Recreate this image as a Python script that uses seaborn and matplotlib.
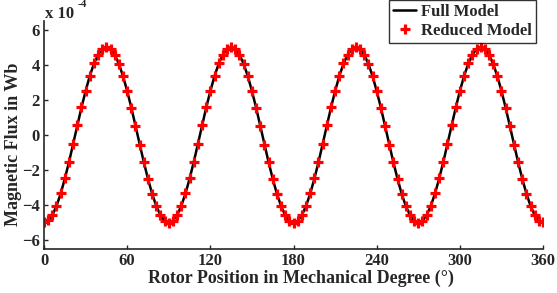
import matplotlib
matplotlib.use("Agg")
import matplotlib.pyplot as plt
import numpy as np
import pandas as pd
import seaborn as sns

# rotor position (degrees) and flux (x 1e-4 Wb)
position = [0, 3, 6, 9, 12, 15, 18, 21, 24, 27, 30, 33, 36, 39, 42, 45, 48, 51, 54, 57,
            60, 63, 66, 69, 72, 75, 78, 81, 84, 87, 90, 93, 96, 99, 102, 105, 108, 111, 114, 117,
            120, 123, 126, 129, 132, 135, 138, 141, 144, 147, 150, 153, 156, 159, 162, 165, 168, 171, 174, 177,
            180, 183, 186, 189, 192, 195, 198, 201, 204, 207, 210, 213, 216, 219, 222, 225, 228, 231, 234, 237,
            240, 243, 246, 249, 252, 255, 258, 261, 264, 267, 270, 273, 276, 279, 282, 285, 288, 291, 294, 297,
            300, 303, 306, 309, 312, 315, 318, 321, 324, 327, 330, 333, 336, 339, 342, 345, 348, 351, 354, 357,
            360]
full_flux = [-5.00, -4.89, -4.57, -4.05, -3.35, -2.50, -1.55, -0.52, 0.52, 1.55, 2.50, 3.35, 4.05, 4.57, 4.89,
             5.00, 4.89, 4.57, 4.05, 3.35, 2.50, 1.55, 0.52, -0.52, -1.55, -2.50, -3.35, -4.05, -4.57, -4.89,
             -5.00, -4.89, -4.57, -4.05, -3.35, -2.50, -1.55, -0.52, 0.52, 1.55, 2.50, 3.35, 4.05, 4.57, 4.89,
             5.00, 4.89, 4.57, 4.05, 3.35, 2.50, 1.55, 0.52, -0.52, -1.55, -2.50, -3.35, -4.05, -4.57, -4.89,
             -5.00, -4.89, -4.57, -4.05, -3.35, -2.50, -1.55, -0.52, 0.52, 1.55, 2.50, 3.35, 4.05, 4.57, 4.89,
             5.00, 4.89, 4.57, 4.05, 3.35, 2.50, 1.55, 0.52, -0.52, -1.55, -2.50, -3.35, -4.05, -4.57, -4.89,
             -5.00, -4.89, -4.57, -4.05, -3.35, -2.50, -1.55, -0.52, 0.52, 1.55, 2.50, 3.35, 4.05, 4.57, 4.89,
             5.00, 4.89, 4.57, 4.05, 3.35, 2.50, 1.55, 0.52, -0.52, -1.55, -2.50, -3.35, -4.05, -4.57, -4.89,
             -5.00]
reduced_flux = [-4.95, -4.85, -4.55, -4.02, -3.33, -2.48, -1.53, -0.50, 0.55, 1.57, 2.52, 3.37, 4.07, 4.58, 4.90,
                5.00, 4.88, 4.55, 4.03, 3.33, 2.48, 1.53, 0.50, -0.55, -1.57, -2.52, -3.37, -4.07, -4.58, -4.90,
                -5.00, -4.88, -4.55, -4.03, -3.33, -2.48, -1.53, -0.50, 0.55, 1.57, 2.52, 3.37, 4.07, 4.58, 4.90,
                5.00, 4.88, 4.55, 4.03, 3.33, 2.48, 1.53, 0.50, -0.55, -1.57, -2.52, -3.37, -4.07, -4.58, -4.90,
                -5.00, -4.88, -4.55, -4.03, -3.33, -2.48, -1.53, -0.50, 0.55, 1.57, 2.52, 3.37, 4.07, 4.58, 4.90,
                5.00, 4.88, 4.55, 4.03, 3.33, 2.48, 1.53, 0.50, -0.55, -1.57, -2.52, -3.37, -4.07, -4.58, -4.90,
                -5.00, -4.88, -4.55, -4.03, -3.33, -2.48, -1.53, -0.50, 0.55, 1.57, 2.52, 3.37, 4.07, 4.58, 4.90,
                5.00, 4.88, 4.55, 4.03, 3.33, 2.48, 1.53, 0.50, -0.55, -1.57, -2.52, -3.37, -4.07, -4.58, -4.90,
                -4.95]
x_ticks = [0, 60, 120, 180, 240, 300, 360]
y_ticks = [-6, -4, -2, 0, 2, 4, 6]

df = pd.DataFrame({'position': position, 'full': full_flux, 'reduced': reduced_flux})

sns.set_style('ticks')
plt.rcParams['font.family'] = ['Liberation Serif', 'DejaVu Serif']
plt.rcParams['font.weight'] = 'bold'

fig = plt.figure(figsize=(5.57, 2.93), dpi=100)
ax = fig.add_axes([0.079, 0.150, 0.896, 0.779])

sns.lineplot(ax=ax, data=df, x='position', y='full', color='black', linewidth=1.8,
             label='Full Model', legend=False)
ax.plot(df['position'], df['reduced'], linestyle='none', marker='+', color='red',
        markersize=6.5, markeredgewidth=2.3, label='Reduced Model')

ax.set_xlim(0, 360)
ax.set_ylim(-6.5, 6.5)
ax.set_xticks(x_ticks)
ax.set_yticks(y_ticks)
ax.tick_params(direction='in', length=3, width=1, labelsize=12, pad=3)
for lab in ax.get_xticklabels() + ax.get_yticklabels():
    lab.set_fontweight('bold')
sns.despine(ax=ax)
ax.spines['left'].set_linewidth(1.2)
ax.spines['bottom'].set_linewidth(1.2)

ax.set_xlabel('Rotor Position in Mechanical Degree (°)', fontsize=13, fontweight='bold')
ax.set_ylabel('Magnetic Flux in Wb', fontsize=13, fontweight='bold')
ax.xaxis.set_label_coords(0.515, -0.09)
ax.yaxis.set_label_coords(-0.045, 0.46)

fig.text(0.081, 0.94, 'x 10', fontsize=12, fontweight='bold', ha='left', va='baseline')
fig.text(0.139, 0.975, '-4', fontsize=8, fontweight='bold', ha='left', va='baseline')

leg = fig.legend(loc='upper right', bbox_to_anchor=(0.963, 1.0), borderaxespad=0,
                 frameon=True, fancybox=False, handlelength=1.4, handletextpad=0.3,
                 borderpad=0.25, labelspacing=0.15, prop={'weight': 'bold', 'size': 12})
leg.get_frame().set_edgecolor('black')
leg.get_frame().set_linewidth(1.0)

fig.savefig('out.png', dpi=100)
